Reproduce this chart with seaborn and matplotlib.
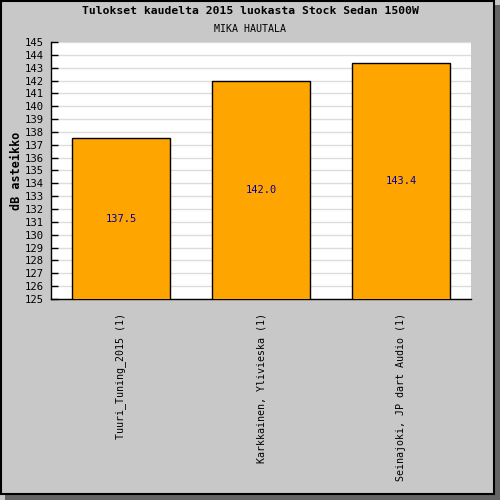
import matplotlib
matplotlib.use("Agg")
import matplotlib.pyplot as plt
from matplotlib.patches import Rectangle
import seaborn as sns
import pandas as pd

# Chart data
teams = ["Tuuri_Tuning_2015 (1)", "Karkkainen, Ylivieska (1)", "Seinajoki, JP dart Audio (1)"]
scores = [137.5, 142.0, 143.4]
y_ticks = list(range(125, 146))

df = pd.DataFrame({"team": teams, "score": scores})

sns.set_style("white")
plt.rcParams["font.family"] = ["DejaVu Sans Mono", "DejaVu Sans"]
plt.rcParams["text.color"] = "black"
plt.rcParams["axes.labelcolor"] = "black"
plt.rcParams["xtick.color"] = "black"
plt.rcParams["ytick.color"] = "black"

fig = plt.figure(figsize=(5, 5), dpi=100)
fig.patch.set_facecolor("#c8c8c8")

# shadow + frame around the whole picture
fig.patches.append(Rectangle((0.01, 0), 0.99, 0.01, transform=fig.transFigure,
                             facecolor="#646464", edgecolor="none", zorder=0))
fig.patches.append(Rectangle((0.99, 0), 0.01, 0.99, transform=fig.transFigure,
                             facecolor="#646464", edgecolor="none", zorder=0))
fig.patches.append(Rectangle((0.001, 0.012), 0.986, 0.987, transform=fig.transFigure,
                             facecolor="none", edgecolor="black", linewidth=1.5, zorder=1))

ax = fig.add_axes([51 / 500, 201 / 500, 420 / 500, 257 / 500])
ax.set_facecolor("white")

sns.barplot(data=df, x="team", y="score", color="#ffa500", edgecolor="black",
            linewidth=1, width=0.7, saturation=1, ax=ax, zorder=3)

ax.set_ylim(125, 145)
ax.set_xlim(-0.5, 2.5)
ax.set_yticks(y_ticks)
ax.set_yticklabels([str(t) for t in y_ticks], fontsize=7.6)
ax.yaxis.grid(True, color="#dcdcdc", linewidth=1)
ax.set_axisbelow(True)

ax.set_xticks(range(len(teams)))
ax.set_xticklabels(teams, rotation=90, fontsize=7.2, va="top", ha="center")
ax.set_xticks([0.5, 1.5, 2.5], minor=True)
ax.tick_params(axis="x", which="major", length=0, pad=10)
ax.tick_params(axis="x", which="minor", direction="in", length=5, width=1, color="black")
ax.tick_params(axis="y", direction="in", length=5, width=1, color="black", pad=5.5, left=True)

for s in ["top", "right"]:
    ax.spines[s].set_visible(False)
for s in ["left", "bottom"]:
    ax.spines[s].set_color("black")
    ax.spines[s].set_linewidth(1)

ax.set_xlabel("")
ax.set_ylabel("dB asteikko", fontsize=8.5, fontweight="bold")
ax.yaxis.set_label_coords(-0.066, 0.5)

for c in ax.containers:
    ax.bar_label(c, fmt="%.1f", label_type="center", color="#0000a0", fontsize=7.5)

fig.text(0.5, 1 - 11 / 500, "Tulokset kaudelta 2015 luokasta Stock Sedan 1500W",
         ha="center", va="center", fontsize=8.2, fontweight="bold")
fig.text(0.5, 1 - 29 / 500, "MIKA HAUTALA", ha="center", va="center", fontsize=7.2)

fig.savefig("out.png", dpi=100, facecolor=fig.get_facecolor())
